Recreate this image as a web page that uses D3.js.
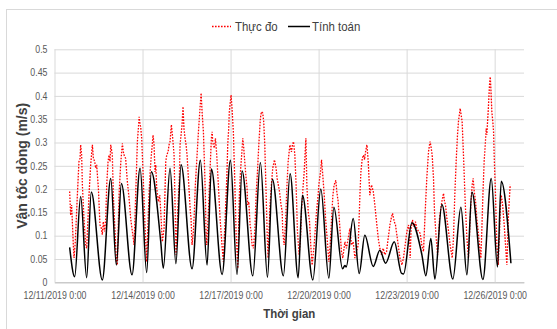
<!DOCTYPE html>
<html>
<head>
<meta charset="utf-8">
<script src="https://cdn.jsdelivr.net/npm/d3@7"></script>
<style>
  body { margin: 0; background: #fff; }
  text { font-family: "Liberation Sans", Arial, sans-serif; }
</style>
</head>
<body>
<svg id="chart" width="557" height="329"></svg>
<script>
// series names
var seriesNames = ["Thực đo", "Tính toán"];

// measured: hours after 12/11/2019 0:00, and velocity (m/s)
var measHours = [12.4,13.2,14.0,14.6,15.4,16.0,17.0,18.7,20.0,20.9,21.4,22.2,22.8,24.1,25.5,26.3,28.2,29.6,31.0,31.8,32.9,33.7,34.5,35.1,35.9,37.2,38.3,39.1,39.9,41.0,41.9,42.7,43.8,44.6,45.4,46.0,47.3,48.1,49.5,50.6,51.4,52.8,54.1,54.7,55.5,56.3,56.9,58.2,59.6,61.0,62.3,63.7,65.1,66.4,67.8,68.6,69.2,70.0,70.5,71.3,72.4,73.8,75.4,77.3,78.2,79.2,80.6,81.4,82.2,82.8,83.6,85.0,86.1,86.9,88.2,89.6,91.0,91.8,92.9,93.7,94.5,95.6,96.7,97.8,
  99.4,100.8,102.1,102.7,104.3,105.1,105.9,106.8,107.6,108.4,109.2,110.3,111.1,111.7,112.5,113.6,114.4,115.2,116.3,117.1,117.9,119.0,119.9,120.7,121.8,122.6,123.4,123.9,124.5,125.9,126.7,127.5,128.3,128.9,129.4,129.9,130.8,131.6,132.1,132.7,134.0,135.4,136.2,137.0,138.1,139.8,140.9,141.7,142.5,143.0,144.4,145.2,146.3,147.4,148.5,149.9,151.2,152.1,152.9,154.0,154.8,155.6,156.7,157.5,158.0,158.9,160.0,160.8,161.6,162.7,163.8,164.9,166.0,167.1,168.4,169.2,170.3,171.1,172.0,173.1,173.9,174.7,175.5,176.3,177.4,178.5,179.9,180.7,181.2,182.1,182.6,184.0,185.3,186.2,186.7,187.8,188.9,190.0,191.1,
  192.5,193.8,194.6,195.5,196.6,197.6,198.7,200.1,201.2,202.0,203.4,204.2,205.6,206.4,207.5,208.6,209.6,210.7,212.4,214.3,215.6,216.2,217.6,218.4,219.2,220.0,220.6,221.7,223.0,224.4,225.5,226.6,227.7,228.7,230.1,230.9,232.0,233.4,234.7,235.8,237.5,238.8,240.2,241.6,242.9,244.3,245.7,247.0,248.4,249.8,250.6,251.7,252.8,253.6,254.4,255.5,256.6,257.9,259.3,260.7,262.0,263.4,264.8,266.1,267.5,268.8,270.2,271.6,272.9,274.3,275.7,276.5,277.9,278.9,280.0,281.1,282.5,283.9,
  284.1,285.4,286.8,288.2,289.5,290.3,290.9,291.7,292.8,294.2,295.2,296.3,297.7,299.1,300.4,301.8,303.2,304.5,305.9,306.7,307.2,308.1,308.9,310.0,310.8,312.2,313.3,314.1,314.9,316.0,316.8,318.2,319.0,319.8,320.9,322.3,323.6,325.3,326.3,327.4,328.5,329.6,330.4,331.8,332.6,333.4,334.5,335.9,337.3,338.6,340.0,340.8,341.6,342.4,343.3,344.4,345.4,347.1,348.7,349.5,350.4,351.4,352.3,353.1,353.6,354.2,354.7,355.8,356.4,356.9,357.7,358.5,359.1,359.6,360.7,361.8,362.9,364.0,364.8,365.4,366.5,367.8,368.9,370.0,370.8,371.4,372.2,372.7];
var measValues = [.195,.144,.166,.130,.080,.052,.087,.187,.259,.266,.295,.273,.209,.137,.080,.073,.187,.252,.295,.266,.259,.245,.252,.230,.202,.123,.116,.102,.130,.109,.137,.209,.259,.273,.259,.295,.273,.187,.109,.044,.037,.187,.252,.273,.298,.280,.273,.266,.216,.180,.137,.109,.080,.187,.302,.330,.355,.338,.334,.309,.237,.137,.044,.187,.237,.273,.316,.295,.237,.252,.202,.173,.187,.152,.087,.116,.259,.273,.280,.295,.302,.338,.309,.273,
  .059,.152,.223,.295,.338,.377,.330,.309,.295,.273,.237,.187,.152,.137,.080,.109,.152,.209,.259,.295,.330,.373,.406,.366,.323,.259,.187,.109,.080,.152,.209,.259,.309,.323,.302,.295,.288,.309,.295,.273,.209,.137,.109,.080,.044,.152,.223,.295,.330,.366,.402,.373,.323,.223,.109,.030,.187,.237,.266,.309,.288,.259,.223,.202,.166,.173,.123,.109,.080,.073,.109,.187,.237,.295,.352,.366,.363,.345,.295,.187,.109,.052,.109,.166,.209,.245,.263,.252,.245,.223,.216,.195,.166,.152,.109,.080,.123,.202,.259,
  .295,.280,.295,.302,.273,.209,.109,.059,.094,.152,.209,.237,.309,.209,.152,.130,.080,.037,.080,.152,.187,.209,.237,.263,.237,.209,.187,.137,.094,.044,.080,.137,.187,.209,.219,.195,.173,.116,.066,.052,.087,.073,.094,.116,.080,.087,.052,.066,.080,.187,.237,.266,.273,.263,.280,.295,.259,.187,.209,.195,.166,.130,.094,.073,.059,.073,.059,.066,.094,.123,.141,.148,.130,.123,.102,.080,.052,.041,
  .037,.052,.080,.109,.123,.109,.052,.116,.134,.119,.130,.116,.109,.105,.080,.066,.152,.223,.280,.295,.302,.288,.273,.223,.152,.094,.059,.094,.137,.159,.173,.191,.173,.166,.137,.109,.080,.052,.094,.187,.259,.316,.345,.373,.359,.345,.273,.173,.094,.052,.137,.180,.209,.223,.195,.173,.137,.094,.052,.109,.187,.259,.295,.330,.316,.345,.366,.424,.441,.416,.366,.345,.323,.273,.187,.080,.037,.109,.166,.187,.166,.123,.080,.037,.109,.152,.187,.209];

// calculated: hours after 12/11/2019 0:00, and velocity (m/s)
var calcHours = [12.4,16.5,21.4,26.3,30.1,39.1,46.0,50.6,54.7,63.4,70.0,75.4,79.2,86.9,89.0,94.5,99.3,103.5,112.5,119.3,124.8,128.3,137.1,143.9,149.3,153.4,162.2,168.4,174.2,178.2,187.2,192.7,199.3,202.8,211.3,217.8,224.4,228.5,235.6,237.5,238.6,244.3,249.2,253.8,260.7,266.1,270.8,277.9,283.9,285.5,292.3,300.5,303.7,307.8,311.1,316.8,325.8,332.4,337.3,341.4,350.4,357.2,362.3,365.4,373.3];
var calcValues = [.075,.012,.184,.010,.194,.005,.223,.037,.212,.016,.245,.021,.237,.087,.030,.245,.040,.252,.029,.262,.037,.243,.017,.262,.017,.239,.014,.257,.011,.221,.014,.233,.010,.187,.005,.200,.009,.161,.029,.036,.033,.137,.019,.101,.034,.069,.041,.087,.019,.018,.128,.059,.014,.094,.007,.167,.007,.161,.016,.194,.006,.223,.033,.217,.041];

// axis ticks
var yTicks = [0,0.05,0.1,0.15,0.2,0.25,0.3,0.35,0.4,0.45,0.5];
var xTickDays = ["2019-12-11","2019-12-14","2019-12-17","2019-12-20","2019-12-23","2019-12-26"];
var xStartDay = "2019-12-11", xEndDay = "2019-12-27";

var parseDay = d3.timeParse("%Y-%m-%d");
var start = parseDay(xStartDay);
function toDate(hr){ return new Date(start.getTime() + hr * 3600000); }

var meas = measHours.map(function(hr, i){ return {t: toDate(hr), v: measValues[i]}; });
var calc = calcHours.map(function(hr, i){ return {t: toDate(hr), v: calcValues[i]}; });

var plotLeft = 54.5, plotTop = 49.3, plotW = 469.5, plotH = 233;
var sx = 0.88; // text is a bit narrow in the source picture

var svg = d3.select("#chart");

// chart frame
svg.append("rect")
  .attr("x", 6.5).attr("y", 9.5)
  .attr("width", 600).attr("height", 330)
  .attr("fill", "none").attr("stroke", "#d9d9d9");

var x = d3.scaleTime().domain([start, parseDay(xEndDay)]).range([0, plotW]);
var y = d3.scaleLinear().domain([0, 0.5]).range([plotH, 0]);

var g = svg.append("g").attr("transform", "translate(" + plotLeft + "," + plotTop + ")");

// y axis + horizontal grid
var gy = g.append("g")
  .call(d3.axisLeft(y).tickValues(yTicks).tickSizeInner(-plotW).tickSizeOuter(0).tickPadding(8)
    .tickFormat(function(d){ return String(+d.toFixed(2)); }));
gy.select(".domain").remove();
gy.selectAll(".tick line").attr("stroke", "#d9d9d9");
gy.selectAll(".tick text")
  .attr("fill", "#595959").style("font-size", "10px")
  .attr("transform", "scale(" + sx + ",1)");

// x axis + vertical grid
var gx = g.append("g").attr("transform", "translate(0," + plotH + ")")
  .call(d3.axisBottom(x).tickValues(xTickDays.map(parseDay)).tickSizeInner(-plotH).tickSizeOuter(0).tickPadding(10)
    .tickFormat(d3.timeFormat("%m/%d/%Y %-H:%M")));
gx.select(".domain").attr("stroke", "#bfbfbf");
gx.selectAll(".tick line").attr("stroke", "#d9d9d9");
gx.selectAll(".tick text")
  .attr("fill", "#595959").style("font-size", "10px")
  .attr("transform", "scale(" + sx + ",1)");

// lines
var line = d3.line().x(function(d){ return x(d.t); }).y(function(d){ return y(d.v); });

g.append("path").datum(meas)
  .attr("fill", "none").attr("stroke", "#ff0000")
  .attr("stroke-width", 1.3).attr("stroke-dasharray", "1.6,1.4")
  .attr("d", line);

g.append("path").datum(calc)
  .attr("fill", "none").attr("stroke", "#000")
  .attr("stroke-width", 1.5).attr("stroke-linejoin", "round")
  .attr("d", line.curve(d3.curveMonotoneX));

// axis titles
svg.append("text")
  .attr("transform", "translate(" + (plotLeft + plotW / 2) + ",317.5) scale(" + sx + ",1)")
  .attr("text-anchor", "middle")
  .attr("fill", "#404040").style("font-size", "13px").style("font-weight", "bold")
  .text("Thời gian");

svg.append("text")
  .attr("transform", "translate(27," + (plotTop + plotH / 2) + ") rotate(-90)")
  .attr("text-anchor", "middle")
  .attr("fill", "#404040").style("font-size", "14px").style("font-weight", "bold")
  .text("Vận tốc dòng (m/s)");

// legend
var legend = svg.append("g");
legend.append("line")
  .attr("x1", 212).attr("x2", 231).attr("y1", 26.5).attr("y2", 26.5)
  .attr("stroke", "#ff0000").attr("stroke-width", 1.3).attr("stroke-dasharray", "1.6,1.4");
legend.append("text")
  .attr("transform", "translate(235,31) scale(" + sx + ",1)")
  .attr("fill", "#404040").style("font-size", "13px")
  .text(seriesNames[0]);
legend.append("line")
  .attr("x1", 288).attr("x2", 310).attr("y1", 26.5).attr("y2", 26.5)
  .attr("stroke", "#000").attr("stroke-width", 1.5);
legend.append("text")
  .attr("transform", "translate(312,31) scale(" + sx + ",1)")
  .attr("fill", "#404040").style("font-size", "13px")
  .text(seriesNames[1]);
</script>
</body>
</html>
